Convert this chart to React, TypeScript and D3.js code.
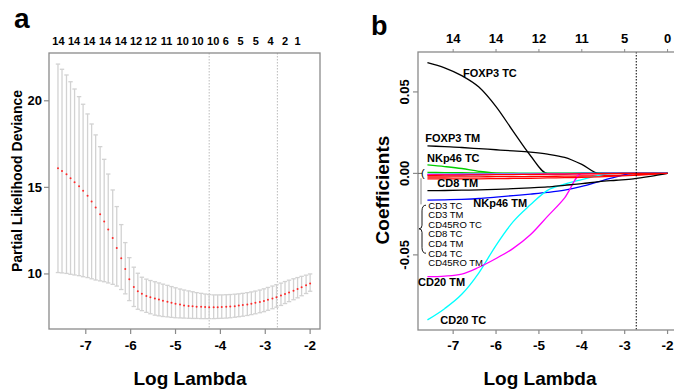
import React from 'react';
import * as d3 from 'd3';

// ---- panel a: cross-validation curve ----
const logLambda = [
  -7.62, -7.53, -7.43, -7.34, -7.25, -7.15, -7.06, -6.96, -6.87, -6.78,
  -6.68, -6.59, -6.5, -6.4, -6.31, -6.21, -6.12, -6.03, -5.93, -5.84,
  -5.75, -5.65, -5.56, -5.46, -5.37, -5.28, -5.18, -5.09, -5.0, -4.9,
  -4.81, -4.71, -4.62, -4.53, -4.43, -4.34, -4.25, -4.15, -4.06, -3.97,
  -3.87, -3.78, -3.68, -3.59, -3.5, -3.4, -3.31, -3.22, -3.12, -3.03,
  -2.94, -2.84, -2.75, -2.65, -2.56, -2.47, -2.37, -2.28, -2.19, -2.09, -2.0,
];
const cvMean = [
  16.1, 15.95, 15.76, 15.53, 15.3, 15.07, 14.81, 14.51, 14.18, 13.83,
  13.45, 13.03, 12.57, 12.07, 11.5, 10.9, 10.29, 9.7, 9.25, 9.0,
  8.85, 8.73, 8.66, 8.58, 8.52, 8.45, 8.4, 8.33, 8.28, 8.23,
  8.18, 8.15, 8.13, 8.11, 8.1, 8.09, 8.08, 8.08, 8.08, 8.09,
  8.1, 8.12, 8.14, 8.17, 8.2, 8.24, 8.28, 8.33, 8.38, 8.44,
  8.51, 8.58, 8.66, 8.75, 8.84, 8.93, 9.03, 9.13, 9.23, 9.34, 9.45,
];
const cvUpper = [
  22.12, 21.82, 21.49, 21.1, 20.68, 20.24, 19.8, 19.24, 18.66, 18.03,
  17.35, 16.62, 15.77, 14.85, 13.89, 12.85, 11.81, 10.94, 10.39, 10.04,
  9.81, 9.7, 9.62, 9.55, 9.48, 9.41, 9.34, 9.27, 9.2, 9.13,
  9.07, 9.02, 8.97, 8.92, 8.88, 8.84, 8.81, 8.79, 8.79, 8.79,
  8.8, 8.81, 8.83, 8.85, 8.88, 8.92, 8.96, 9.01, 9.07, 9.14,
  9.22, 9.3, 9.38, 9.47, 9.56, 9.64, 9.72, 9.79, 9.86, 9.93, 10.0,
];
const cvLower = [
  10.08, 10.06, 10.03, 9.98, 9.94, 9.9, 9.84, 9.79, 9.72, 9.65,
  9.6, 9.55, 9.48, 9.4, 9.3, 9.1, 8.85, 8.46, 8.12, 7.96,
  7.88, 7.78, 7.7, 7.62, 7.58, 7.54, 7.52, 7.49, 7.47, 7.46,
  7.45, 7.44, 7.43, 7.43, 7.42, 7.42, 7.42, 7.42, 7.43, 7.44,
  7.45, 7.47, 7.5, 7.53, 7.56, 7.6, 7.65, 7.7, 7.76, 7.82,
  7.9, 7.99, 8.08, 8.18, 8.29, 8.4, 8.51, 8.62, 8.74, 8.87, 9.0,
];
const cvTopLambda = [
  -7.61, -7.26, -6.92, -6.57, -6.22, -5.88, -5.55, -5.2, -4.84,
  -4.51, -4.16, -3.88, -3.55, -3.21, -2.88, -2.56, -2.28,
];
const cvTopCount = [14, 14, 14, 14, 14, 12, 12, 11, 10, 10, 10, 6, 5, 5, 4, 2, 1];
const lambdaMin = -4.25;
const lambda1se = -2.73;

// ---- panel b: coefficient paths ----
const pathLambda = [-7.6, -7.2, -6.8, -6.4, -6.0, -5.6, -5.2, -4.8, -4.4, -4.0, -3.6, -3.2, -2.8, -2.4, -2.0];
const foxp3TC = [0.068, 0.0648, 0.06, 0.053, 0.041, 0.0258, 0.011, 0, 0, 0, 0, 0, 0, 0, 0];
const cd3TC = [-0.0022, -0.0022, -0.0021, -0.0021, -0.002, -0.002, -0.0019, -0.0018, -0.0017, -0.0016, -0.0014, -0.0012, -0.0009, -0.0005, 0];
const nkp46TC = [0.0052, 0.0042, 0.003, 0.0013, 0.0002, 0, 0, 0, 0, 0, 0, 0, 0, 0, 0];
const nkp46TM = [-0.0164, -0.0162, -0.0159, -0.0154, -0.0145, -0.0136, -0.0127, -0.0117, -0.0103, -0.008, -0.005, -0.0022, 0, 0, 0];
const cd20TC = [-0.0899, -0.083, -0.0742, -0.061, -0.0441, -0.0296, -0.0193, -0.0104, -0.0066, -0.0038, -0.0012, 0, 0, 0, 0];
const cd20TM = [-0.0634, -0.063, -0.0618, -0.0576, -0.0522, -0.046, -0.0377, -0.0264, -0.015, 0, 0, 0, 0, 0, 0];
const foxp3TM = [0.0169, 0.0164, 0.0159, 0.0152, 0.0145, 0.0138, 0.013, 0.0118, 0.0098, 0.0055, 0, 0, 0, 0, 0];
const cd3TM = [-0.0034, -0.0034, -0.0033, -0.0033, -0.0032, -0.0031, -0.003, -0.0028, -0.0026, -0.0024, -0.0021, -0.0017, -0.0012, -0.0006, 0];
const cd45roTC = [0.0006, 0.0005, 0.0004, 0.0003, 0.0002, 0.0001, 0, 0, 0, 0, 0, 0, 0, 0, 0];
const cd8TC = [-0.0009, -0.0008, -0.0008, -0.0007, -0.0006, -0.0005, -0.0004, -0.0003, -0.0002, 0, 0, 0, 0, 0, 0];
const cd4TM = [-0.0004, -0.0004, -0.0003, -0.0003, -0.0002, -0.0001, 0, 0, 0, 0, 0, 0, 0, 0, 0];
const cd4TC = [-0.0006, -0.0006, -0.0005, -0.0005, -0.0005, -0.0004, -0.0004, -0.0003, -0.0003, -0.0002, -0.0001, 0, 0, 0, 0];
const cd8TM = [-0.0106, -0.0105, -0.0103, -0.0101, -0.0098, -0.0094, -0.0089, -0.0083, -0.0073, -0.0063, -0.0051, -0.0042, -0.0033, -0.0018, 0];
const cd45roTM = [-0.0012, -0.0011, -0.001, -0.0009, -0.0008, -0.0007, -0.0006, -0.0005, -0.0004, -0.0003, -0.0002, -0.0001, 0, 0, 0];

const coefSeries = [foxp3TC, cd3TC, nkp46TC, nkp46TM, cd20TC, cd20TM, foxp3TM, cd3TM, cd45roTC, cd8TC, cd4TM, cd4TC, cd8TM, cd45roTM];
const palette = ['#000000', '#ff0000', '#00cd00', '#0000ff', '#00ffff', '#ff00ff'];

const coefTopLambda = [-7, -6, -5, -4, -3, -2];
const coefTopCount = [14, 14, 12, 11, 5, 0];

// labels: [logLambda, coef, text]
const boldLabels: [number, number, string][] = [
  [-6.77, 0.0591, 'FOXP3 TC'],
  [-7.65, 0.0195, 'FOXP3 TM'],
  [-7.61, 0.0069, 'NKp46 TC'],
  [-7.37, -0.0084, 'CD8 TM'],
  [-6.53, -0.0206, 'NKp46 TM'],
  [-7.82, -0.069, 'CD20 TM'],
  [-7.3, -0.0924, 'CD20 TC'],
];
const smallLabels = ['CD3 TC', 'CD3 TM', 'CD45RO TC', 'CD8 TC', 'CD4 TM', 'CD4 TC', 'CD45RO TM'];
const smallLabelCoef = [-0.0216, -0.0275, -0.0334, -0.0393, -0.0452, -0.0511, -0.057];

const xTicks = [-7, -6, -5, -4, -3, -2];
const yTicksA = [10, 15, 20];
const yTicksB = [-0.05, 0, 0.05];

const font = 'Liberation Sans, Arial, Helvetica, sans-serif';
const boxColor = '#8a8a8a';

export default function App() {
  const xA = d3.scaleLinear().domain([-7.82, -1.78]).range([49, 320]);
  const yA = d3.scaleLinear().domain([6.82, 22.76]).range([329, 53]);
  const xB = d3.scaleLinear().domain([-7.82, -1.78]).range([418, 677]);
  const yB = d3.scaleLinear().domain([-0.0961, 0.0745]).range([330, 52]);

  const line = d3.line<number>()
    .x((_, i) => xB(pathLambda[i]))
    .y(d => yB(d))
    .curve(d3.curveMonotoneX);

  return (
    <svg width={674} height={391} style={{ position: 'absolute', left: 0, top: 0, background: '#fff' }} fontFamily={font}>
      {/* ---------- panel a ---------- */}
      <text x={14} y={28} fontSize={28} fontWeight="bold">a</text>
      {cvTopLambda.map((l, i) => (
        <text key={'ta' + i} x={xA(l)} y={45} fontSize={11} fontWeight="bold" textAnchor="middle">{cvTopCount[i]}</text>
      ))}
      {[lambdaMin, lambda1se].map((l, i) => (
        <line key={'va' + i} x1={xA(l)} x2={xA(l)} y1={53} y2={329} stroke="#aaa" strokeWidth={0.8} strokeDasharray="1.5,1.5" />
      ))}
      {logLambda.map((l, i) => {
        const x = xA(l);
        return (
          <g key={'eb' + i} stroke="#d2d2d2" strokeWidth={1.3}>
            <line x1={x} x2={x} y1={yA(cvUpper[i])} y2={yA(cvLower[i])} />
            <line x1={x - 2.2} x2={x + 2.2} y1={yA(cvUpper[i])} y2={yA(cvUpper[i])} />
            <line x1={x - 2.2} x2={x + 2.2} y1={yA(cvLower[i])} y2={yA(cvLower[i])} />
          </g>
        );
      })}
      {logLambda.map((l, i) => (
        <circle key={'pt' + i} cx={xA(l)} cy={yA(cvMean[i])} r={1} fill="#ff2a2a" />
      ))}
      <rect x={49} y={53} width={271} height={276} fill="none" stroke={boxColor} strokeWidth={1.3} />
      {xTicks.map(t => (
        <g key={'xa' + t}>
          <line x1={xA(t)} x2={xA(t)} y1={329} y2={334} stroke={boxColor} strokeWidth={1.2} />
          <text x={xA(t)} y={350} fontSize={13.5} fontWeight="bold" textAnchor="middle">{t}</text>
        </g>
      ))}
      {yTicksA.map(t => (
        <g key={'ya' + t}>
          <line x1={44} x2={49} y1={yA(t)} y2={yA(t)} stroke={boxColor} strokeWidth={1.2} />
          <text x={42} y={yA(t) + 4.5} fontSize={13} fontWeight="bold" textAnchor="end">{t}</text>
        </g>
      ))}
      <text transform={`translate(22,181) rotate(-90)`} fontSize={14} fontWeight="bold" textAnchor="middle">Partial Likelihood Deviance</text>
      <text x={190} y={385} fontSize={19} fontWeight="bold" textAnchor="middle">Log Lambda</text>

      {/* ---------- panel b ---------- */}
      <text x={371} y={35} fontSize={27} fontWeight="bold">b</text>
      {coefTopLambda.map((l, i) => (
        <g key={'tb' + i}>
          <line x1={xB(l)} x2={xB(l)} y1={52} y2={49} stroke={boxColor} strokeWidth={1} />
          <text x={xB(l)} y={42.5} fontSize={13} fontWeight="bold" textAnchor="middle">{coefTopCount[i]}</text>
        </g>
      ))}
      {coefSeries.map((s, i) => (
        <path key={'c' + i} d={line(s) || ''} fill="none" stroke={palette[i % palette.length]} strokeWidth={1.3} />
      ))}
      <line x1={xB(lambda1se)} x2={xB(lambda1se)} y1={52} y2={330} stroke="#000" strokeWidth={1} strokeDasharray="1.5,1.5" />
      <rect x={418} y={52} width={259} height={278} fill="none" stroke={boxColor} strokeWidth={1.3} />
      {xTicks.map(t => (
        <g key={'xb' + t}>
          <line x1={xB(t)} x2={xB(t)} y1={330} y2={334} stroke={boxColor} strokeWidth={1.2} />
          <text x={xB(t)} y={350} fontSize={13.5} fontWeight="bold" textAnchor="middle">{t}</text>
        </g>
      ))}
      {yTicksB.map(t => (
        <g key={'yb' + t}>
          <line x1={413} x2={418} y1={yB(t)} y2={yB(t)} stroke={boxColor} strokeWidth={1.2} />
          <text transform={`translate(409,${yB(t)}) rotate(-90)`} fontSize={13} fontWeight="bold" textAnchor="middle">{t.toFixed(2)}</text>
        </g>
      ))}
      <text transform={`translate(389,190) rotate(-90)`} fontSize={19} fontWeight="bold" textAnchor="middle">Coefficients</text>
      <text x={540} y={385} fontSize={19} fontWeight="bold" textAnchor="middle">Log Lambda</text>

      {boldLabels.map(([l, c, t]) => (
        <text key={t} x={xB(l)} y={yB(c)} fontSize={11} fontWeight="bold">{t}</text>
      ))}
      {smallLabels.map((t, i) => (
        <text key={t} x={xB(-7.58)} y={yB(smallLabelCoef[i])} fontSize={9.5}>{t}</text>
      ))}
      {/* brackets grouping the near-zero paths */}
      <line x1={418} x2={422} y1={yB(0)} y2={yB(0)} stroke="#666" strokeWidth={1} />
      <text x={421} y={yB(0) + 4} fontSize={11}>(</text>
      <line x1={421} x2={421} y1={yB(-0.003)} y2={yB(-0.019)} stroke="#888" strokeWidth={1} />
      <path
        d={`M426,${yB(-0.0195)} Q422,${yB(-0.0195)} 422,${yB(-0.023)} L422,${yB(-0.0318)} Q422,${yB(-0.034)} 419,${yB(-0.034)} Q422,${yB(-0.034)} 422,${yB(-0.0362)} L422,${yB(-0.0455)} Q422,${yB(-0.049)} 426,${yB(-0.049)}`}
        fill="none" stroke="#000" strokeWidth={0.9}
      />
    </svg>
  );
}
